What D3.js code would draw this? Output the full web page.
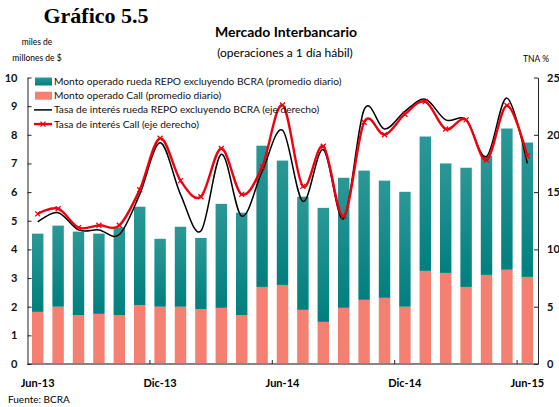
<!DOCTYPE html>
<html>
<head>
<meta charset="utf-8">
<script src="https://cdn.jsdelivr.net/npm/d3@7"></script>
<style>
  body { margin: 0; background: #fff; }
  svg { display: block; font-family: Lato, "Open Sans", sans-serif; }
</style>
</head>
<body>
<svg width="559" height="407"></svg>
<script>
// monthly categories, Jun-13 .. Jun-15
const months = ["Jun-13","Jul-13","Ago-13","Sep-13","Oct-13","Nov-13","Dic-13","Ene-14","Feb-14","Mar-14","Abr-14","May-14",
                "Jun-14","Jul-14","Ago-14","Sep-14","Oct-14","Nov-14","Dic-14","Ene-15","Feb-15","Mar-15","Abr-15","May-15","Jun-15"];
const tickLabels = ["Jun-13","Dic-13","Jun-14","Dic-14","Jun-15"];

// miles de millones de $ (left axis)
const callAmount = [1.82,2.00,1.71,1.75,1.71,2.06,2.00,2.00,1.92,1.96,1.71,2.69,2.76,1.89,1.47,1.96,2.24,2.31,2.00,3.25,3.18,2.69,3.11,3.29,3.04];
const repoAmount = [2.73,2.83,2.91,2.80,3.06,3.43,2.37,2.79,2.48,3.63,3.57,4.93,4.34,3.95,3.98,4.54,4.51,4.09,4.01,4.69,3.82,4.16,4.16,4.93,4.69];

// TNA % (right axis)
const repoRate = [12.4,13.2,11.7,11.7,11.3,14.8,19.3,14.8,11.6,18.3,12.9,16.8,20.4,14.2,18.7,12.7,22.2,20.5,22.05,23.1,21.3,21.3,18.1,23.2,17.5];
const callRate = [13.1,13.55,11.9,12.1,12.1,15.2,19.7,16.0,14.6,18.8,14.8,17.2,22.6,15.5,19.0,12.9,21.1,20.0,21.8,22.9,20.5,21.3,17.8,22.55,18.15];

const leftTicks = [0,1,2,3,4,5,6,7,8,9,10];
const rightTicks = [0,5,10,15,20,25];

let svg = d3.select("svg");

const plot = {left: 27.5, right: 537.5, top: 77.5, bottom: 364};

const x = d3.scaleBand()
    .domain(months)
    .range([plot.left, plot.right])
    .paddingInner(0.44)
    .paddingOuter(0.22);
const step = x.step();

const yLeft = d3.scaleLinear().domain([0, 10]).range([plot.bottom, plot.top]);
const yRight = d3.scaleLinear().domain([0, 25]).range([plot.bottom, plot.top]);

// gradient for the REPO bars
const grad = svg.append("defs").append("linearGradient")
    .attr("id", "tealGrad")
    .attr("x1", 0).attr("y1", 0).attr("x2", 0).attr("y2", 1);
grad.append("stop").attr("offset", "0%").attr("stop-color", "#2b9897");
grad.append("stop").attr("offset", "100%").attr("stop-color", "#007f7e");

// titles
svg.append("text").attr("x", 96).attr("y", 23).attr("text-anchor", "middle")
    .style("font-family", "'Liberation Serif', serif").style("font-weight", "bold").style("font-size", "22px")
    .text("Gráfico 5.5");
svg.append("text").attr("x", 286).attr("y", 37).attr("text-anchor", "middle")
    .style("font-weight", "bold").style("font-size", "14px")
    .text("Mercado Interbancario");
svg.append("text").attr("x", 285).attr("y", 57).attr("text-anchor", "middle")
    .style("font-size", "12px")
    .text("(operaciones a 1 día hábil)");
svg.append("text").attr("x", 37).attr("y", 45).attr("text-anchor", "middle")
    .style("font-size", "8.5px").text("miles de");
svg.append("text").attr("x", 37).attr("y", 61).attr("text-anchor", "middle")
    .style("font-size", "8.5px").text("millones de $");
svg.append("text").attr("x", 536).attr("y", 62).attr("text-anchor", "middle")
    .style("font-size", "8.5px").text("TNA %");
svg.append("text").attr("x", 8).attr("y", 403)
    .style("font-size", "10px").text("Fuente: BCRA");

// bars: call at the bottom, repo stacked on top
const bars = svg.append("g").attr("class", "bars");
bars.selectAll("rect.call")
    .data(months)
    .enter().append("rect")
    .attr("class", "call")
    .attr("x", d => x(d))
    .attr("width", x.bandwidth())
    .attr("y", (d, i) => yLeft(callAmount[i]))
    .attr("height", (d, i) => plot.bottom - yLeft(callAmount[i]))
    .attr("fill", "#f57f70");
bars.selectAll("rect.repo")
    .data(months)
    .enter().append("rect")
    .attr("class", "repo")
    .attr("x", d => x(d))
    .attr("width", x.bandwidth())
    .attr("y", (d, i) => yLeft(callAmount[i] + repoAmount[i]))
    .attr("height", (d, i) => yLeft(callAmount[i]) - yLeft(callAmount[i] + repoAmount[i]))
    .attr("fill", "url(#tealGrad)");

// axes
svg.append("line")
    .attr("x1", plot.left).attr("x2", plot.right + 1)
    .attr("y1", plot.bottom).attr("y2", plot.bottom)
    .attr("stroke", "#858585").attr("stroke-width", 2);

const leftAxis = svg.append("g")
    .attr("transform", "translate(" + plot.left + ",0)")
    .call(d3.axisLeft(yLeft).tickValues(leftTicks).tickFormat(d3.format("d"))
        .tickSizeInner(-4).tickSizeOuter(0).tickPadding(10));
const rightAxis = svg.append("g")
    .attr("transform", "translate(" + (plot.right + 0.5) + ",0)")
    .call(d3.axisRight(yRight).tickValues(rightTicks).tickFormat(d3.format("d"))
        .tickSizeInner(-4).tickSizeOuter(0).tickPadding(9));
[leftAxis, rightAxis].forEach(function (a) {
    a.selectAll("text").style("font-family", "Lato, sans-serif")
        .style("font-weight", "bold").style("font-size", "11px").attr("fill", "#111");
    a.selectAll("path, line").attr("stroke", "#222");
});

// x ticks at every sixth month boundary, labels under the bars
const xg = svg.append("g");
xg.selectAll("line")
    .data(tickLabels.slice(1))
    .enter().append("line")
    .attr("x1", d => x(d) - (step - x.bandwidth()) / 2)
    .attr("x2", d => x(d) - (step - x.bandwidth()) / 2)
    .attr("y1", plot.bottom).attr("y2", plot.bottom - 4)
    .attr("stroke", "#222");
xg.selectAll("text")
    .data(tickLabels)
    .enter().append("text")
    .attr("x", d => x(d) + x.bandwidth() / 2)
    .attr("y", 387)
    .attr("text-anchor", "middle")
    .style("font-weight", "bold").style("font-size", "11px")
    .text(d => d);

// rate lines
const lineGen = function (values) {
    return d3.line()
        .x((d, i) => x(months[i]) + x.bandwidth() / 2)
        .y(d => yRight(d))
        .curve(d3.curveCardinal.tension(0))(values);
};

svg.append("path")
    .attr("d", lineGen(repoRate))
    .attr("fill", "none").attr("stroke", "#000").attr("stroke-width", 1.5);
svg.append("path")
    .attr("d", lineGen(callRate))
    .attr("fill", "none").attr("stroke", "#f0000f").attr("stroke-width", 2.4);

function crossMark(g, cx, cy) {
    g.append("path")
        .attr("d", "M" + (cx - 2.5) + "," + (cy - 2.5) + "L" + (cx + 2.5) + "," + (cy + 2.5) +
                   "M" + (cx - 2.5) + "," + (cy + 2.5) + "L" + (cx + 2.5) + "," + (cy - 2.5))
        .attr("stroke", "#f0000f").attr("stroke-width", 1.3);
}
const markers = svg.append("g");
callRate.forEach(function (v, i) {
    crossMark(markers, x(months[i]) + x.bandwidth() / 2, yRight(v));
});

// legend
const legendItems = [
    {label: "Monto operado rueda REPO excluyendo BCRA (promedio diario)", type: "repo"},
    {label: "Monto operado Call (promedio diario)", type: "call"},
    {label: "Tasa de interés rueda REPO excluyendo BCRA (eje derecho)", type: "repoRate"},
    {label: "Tasa de interés Call (eje derecho)", type: "callRate"}
];
const legend = svg.append("g");
legendItems.forEach(function (item, i) {
    const cy = 81.5 + i * 14.2;
    if (item.type === "repo" || item.type === "call") {
        legend.append("rect").attr("x", 35).attr("y", cy - 4).attr("width", 17).attr("height", 8)
            .attr("fill", item.type === "repo" ? "url(#tealGrad)" : "#f57f70");
    } else {
        legend.append("line").attr("x1", 34).attr("x2", 52).attr("y1", cy).attr("y2", cy)
            .attr("stroke", item.type === "repoRate" ? "#000" : "#f0000f")
            .attr("stroke-width", item.type === "repoRate" ? 1.5 : 2.4);
        if (item.type === "callRate") crossMark(legend, 43, cy);
    }
    legend.append("text").attr("x", 54).attr("y", cy + 3.5)
        .style("font-size", "10.2px").attr("fill", "#111")
        .text(item.label);
});
</script>
</body>
</html>
